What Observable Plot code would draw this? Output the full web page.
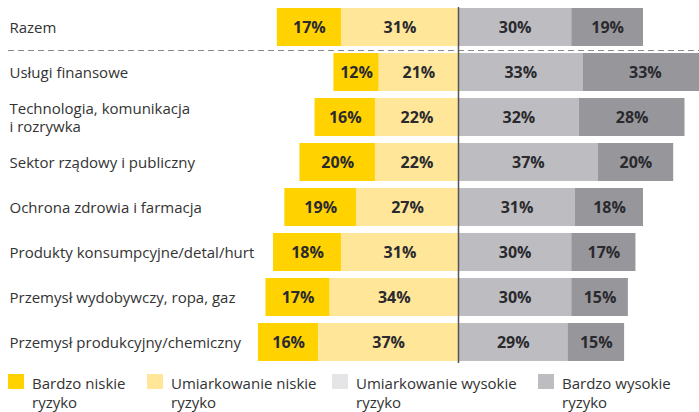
<!DOCTYPE html>
<html>
<head>
<meta charset="utf-8">
<script src="https://cdn.jsdelivr.net/npm/d3@7"></script>
<script src="https://cdn.jsdelivr.net/npm/@observablehq/plot@0.6"></script>
<style>
  html, body { margin: 0; padding: 0; background: #fff; overflow: hidden; }
  body { width: 699px; height: 412px; font-family: "Open Sans", sans-serif; }
  #chart svg { display: block; }
  #legend { position: relative; height: 44px; }
  .item { position: absolute; top: 6px; }
  .sw { position: absolute; left: 0; top: 0; width: 16px; height: 15px; }
  .lbl { position: absolute; left: 24px; top: 0px; font-size: 15px; line-height: 19px; color: #333; white-space: nowrap; }
</style>
</head>
<body>
<div id="chart"></div>
<div id="legend"></div>
<script>
const categories = [
  "Razem",
  "Usługi finansowe",
  "Technologia, komunikacja\ni rozrywka",
  "Sektor rządowy i publiczny",
  "Ochrona zdrowia i farmacja",
  "Produkty konsumpcyjne/detal/hurt",
  "Przemysł wydobywczy, ropa, gaz",
  "Przemysł produkcyjny/chemiczny"
];
const veryLow  = [17, 12, 16, 20, 19, 18, 17, 16];
const modLow   = [31, 21, 22, 22, 27, 31, 34, 37];
const modHigh  = [30, 33, 32, 37, 31, 30, 30, 29];
const veryHigh = [19, 33, 28, 20, 18, 17, 15, 15];

const seriesNames = ["Bardzo niskie ryzyko", "Umiarkowanie niskie ryzyko", "Umiarkowanie wysokie ryzyko", "Bardzo wysokie ryzyko"];
const barColors = ["#ffd200", "#ffe699", "#bdbdc1", "#96969b"];
const legendColors = ["#ffd200", "#ffe699", "#e5e5e7", "#bdbdc1"];
const legendLefts = [8, 147, 332, 538];

const rows = [];
categories.forEach((c, i) => {
  const a = veryLow[i], b = modLow[i], cc = modHigh[i], d = veryHigh[i];
  rows.push({cat: c, s: seriesNames[0], v: a, x1: -(a + b), x2: -b});
  rows.push({cat: c, s: seriesNames[1], v: b, x1: -b, x2: 0});
  rows.push({cat: c, s: seriesNames[2], v: cc, x1: 0, x2: cc});
  rows.push({cat: c, s: seriesNames[3], v: d, x1: cc, x2: cc + d});
});

const chart = Plot.plot({
  width: 699,
  height: 368,
  marginTop: 0, marginBottom: 0, marginLeft: 0, marginRight: 0,
  style: {fontFamily: "'Open Sans', sans-serif", background: "#fff"},
  x: {domain: [-121.32, 63.84], axis: null},
  y: {domain: categories, range: [2.75, 366.75], paddingInner: 0.165, paddingOuter: 0.0825, align: 0.5, axis: null},
  color: {domain: seriesNames, range: barColors},
  marks: [
    Plot.barX(rows, {x1: "x1", x2: "x2", y: "cat", fill: "s", clip: true}),
    Plot.ruleY([categories[1]], {dy: -22, insetLeft: 8, stroke: "#8a8a8a", strokeWidth: 1.2, strokeDasharray: "6,4"}),
    Plot.ruleX([0], {insetTop: 7, insetBottom: 5, stroke: "#555", strokeWidth: 1.5}),
    Plot.text(rows, {x: d => (d.x1 + d.x2) / 2, y: "cat", text: d => d.v + "%", fontSize: 16, fontWeight: "bold", fill: "#2a2a2e"}),
    Plot.text(categories, {y: d => d, frameAnchor: "left", dx: 9, textAnchor: "start", fontSize: 15, lineHeight: 1.2, fill: "#333"})
  ]
});
document.getElementById("chart").appendChild(chart);

const legend = document.getElementById("legend");
seriesNames.forEach((name, i) => {
  const item = document.createElement("div");
  item.className = "item";
  item.style.left = legendLefts[i] + "px";
  const sw = document.createElement("div");
  sw.className = "sw";
  sw.style.background = legendColors[i];
  const lbl = document.createElement("div");
  lbl.className = "lbl";
  const parts = name.split(" ");
  lbl.innerHTML = parts.slice(0, -1).join(" ") + "<br>" + parts[parts.length - 1];
  item.appendChild(sw);
  item.appendChild(lbl);
  legend.appendChild(item);
});
</script>
</body>
</html>
